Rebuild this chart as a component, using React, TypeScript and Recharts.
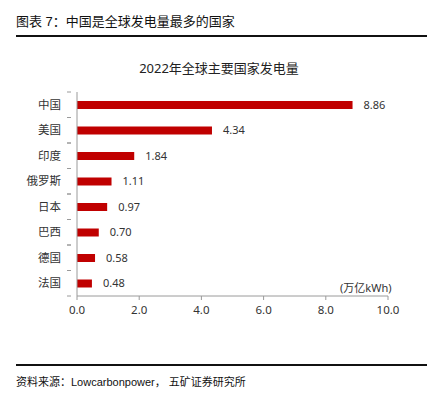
import { BarChart, Bar, XAxis, YAxis, LabelList } from 'recharts';

const countries = ['中国', '美国', '印度', '俄罗斯', '日本', '巴西', '德国', '法国'];
const generation = [8.86, 4.34, 1.84, 1.11, 0.97, 0.7, 0.58, 0.48];
const xTicks = [0, 2, 4, 6, 8, 10];

const BAR_RED = '#C00000';
const AXIS_GREY = '#9a9a9a';
const FONT = '"Century Gothic", "Noto Sans", "Noto Sans CJK SC", sans-serif';
const PAGE_FONT = '"Liberation Sans", "Noto Sans CJK SC", sans-serif';

const chartData = countries.map((name, i) => ({ name, value: generation[i] }));

// category label plus a small tick at the band edges, like the original
function CategoryTick(props: any) {
  const { x, y, payload } = props;
  const half = 204 / countries.length / 2;
  return (
    <g>
      <line x1={x + 6} x2={x + 10} y1={y + half} y2={y + half} stroke={AXIS_GREY} />
      <line x1={x + 6} x2={x + 10} y1={y - half} y2={y - half} stroke={AXIS_GREY} />
      <text x={x} y={y} dy={4} textAnchor="end" fontSize={11.5} fill="#333" fontFamily={FONT}>
        {payload.value}
      </text>
    </g>
  );
}

export default function App() {
  return (
    <div style={{ position: 'relative', width: 438, height: 397, margin: -8, background: '#fff', fontFamily: FONT }}>
      <div style={{ position: 'absolute', left: 16, top: 11, fontSize: 13, color: '#111', fontFamily: PAGE_FONT }}>
        图表 7：中国是全球发电量最多的国家
      </div>
      <div style={{ position: 'absolute', left: 16, top: 35, width: 411, height: 2, background: '#111' }} />
      <div style={{ position: 'absolute', left: 0, width: 438, top: 58, textAlign: 'center', fontSize: 13, color: '#222' }}>
        2022年全球主要国家发电量
      </div>
      <div style={{ position: 'absolute', left: 0, top: 0 }}>
        <BarChart
          width={438}
          height={330}
          layout="vertical"
          data={chartData}
          margin={{ top: 92, right: 50, bottom: 4, left: 7 }}
          barCategoryGap="34%"
        >
          <XAxis
            type="number"
            domain={[0, 10]}
            ticks={xTicks}
            tickFormatter={(v: number) => v.toFixed(1)}
            tick={{ fontSize: 11.5, fill: '#333', fontFamily: FONT }}
            axisLine={{ stroke: AXIS_GREY }}
            tickLine={{ stroke: AXIS_GREY }}
            tickSize={4}
            tickMargin={6}
            height={30}
          />
          <YAxis
            type="category"
            dataKey="name"
            width={70}
            axisLine={{ stroke: AXIS_GREY }}
            tickLine={false}
            tick={<CategoryTick />}
            tickMargin={10}
            interval={0}
          />
          <Bar dataKey="value" fill={BAR_RED} barSize={8} isAnimationActive={false}>
            <LabelList
              dataKey="value"
              position="right"
              offset={11}
              formatter={(v: number) => v.toFixed(2)}
              style={{ fontSize: 11, fill: '#333', fontFamily: FONT }}
            />
          </Bar>
        </BarChart>
      </div>
      <div style={{ position: 'absolute', left: 340, top: 279, fontSize: 11, color: '#333' }}>(万亿kWh)</div>
      <div style={{ position: 'absolute', left: 16, top: 364, width: 411, height: 1.5, background: '#111' }} />
      <div style={{ position: 'absolute', left: 16, top: 373, fontSize: 11, color: '#111', fontFamily: PAGE_FONT }}>
        资料来源：Lowcarbonpower， 五矿证券研究所
      </div>
    </div>
  );
}
